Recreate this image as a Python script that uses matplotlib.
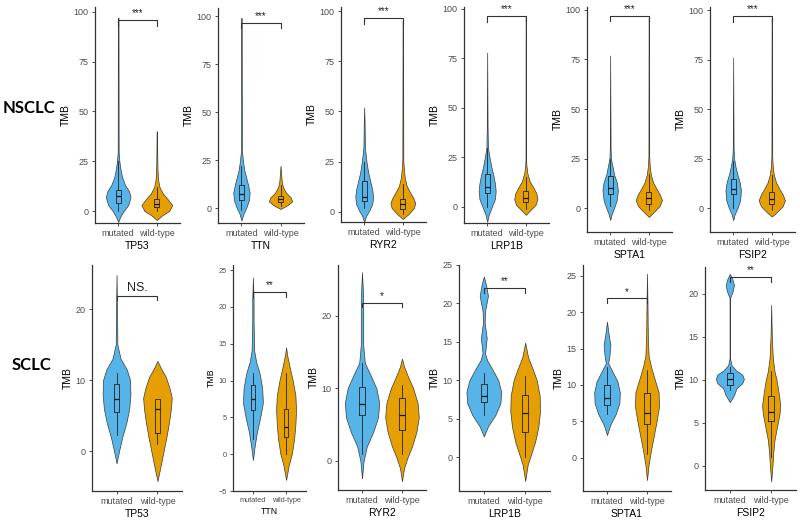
import numpy as np
import matplotlib
matplotlib.use("Agg")
import matplotlib.pyplot as plt

plt.rcParams['font.family'] = ['Liberation Sans', 'DejaVu Sans']

genes = ["TP53", "TTN", "RYR2", "LRP1B", "SPTA1", "FSIP2"]
groups = ["mutated", "wild-type"]
colors = ["#56B4E9", "#E69F00"]

# violin outlines: TMB level -> half width (category units)
nsclc_mut_y = [
    [-5.5, -3, 0, 3, 7, 10, 13, 17, 21, 25, 30, 97],
    [-6.5, -3, 0, 4, 8, 12, 16, 20, 25, 30, 99],
    [-5, -2, 1, 4, 7.5, 11, 15, 20, 25, 32, 45, 52],
    [-7.5, -4, 0, 4, 8, 12, 16, 20, 25, 30, 40, 78],
    [-6, -3, 0, 4, 9, 13, 17, 21, 25, 30, 77],
    [-6, -3, 0, 4, 9, 13, 17, 21, 25, 30, 76],
]
nsclc_mut_w = [
    [0, 0.05, 0.14, 0.26, 0.32, 0.28, 0.18, 0.10, 0.06, 0.03, 0.012, 0.008],
    [0, 0.05, 0.12, 0.19, 0.21, 0.17, 0.12, 0.07, 0.035, 0.012, 0.006],
    [0, 0.05, 0.14, 0.21, 0.23, 0.21, 0.16, 0.10, 0.06, 0.02, 0.01, 0],
    [0, 0.04, 0.12, 0.20, 0.22, 0.20, 0.16, 0.11, 0.06, 0.02, 0.01, 0],
    [0, 0.04, 0.10, 0.17, 0.20, 0.17, 0.10, 0.06, 0.02, 0.01, 0],
    [0, 0.04, 0.11, 0.18, 0.20, 0.17, 0.11, 0.06, 0.025, 0.01, 0],
]
nsclc_wt_y = [
    [-4.5, -2, 0, 3, 6, 9, 12, 16, 22, 30, 40],
    [-0.5, 1.5, 3.5, 5.5, 8, 11, 14, 18, 22],
    [-3.5, -1, 2, 4.5, 7, 10, 13, 17, 22, 26, 95],
    [-4, -1.5, 1, 4, 7, 10, 13, 17, 21, 24, 96],
    [-4.5, -2, 1, 4, 7, 10, 13, 17, 21, 26, 96],
    [-4.2, -2, 1, 4, 7, 10, 13, 17, 21, 26, 96],
]
nsclc_wt_w = [
    [0, 0.15, 0.32, 0.40, 0.28, 0.15, 0.07, 0.03, 0.015, 0.01, 0.005],
    [0, 0.18, 0.30, 0.26, 0.14, 0.06, 0.03, 0.015, 0],
    [0, 0.15, 0.29, 0.32, 0.27, 0.18, 0.10, 0.05, 0.025, 0.012, 0.006],
    [0, 0.12, 0.25, 0.30, 0.27, 0.19, 0.10, 0.04, 0.015, 0.008, 0.005],
    [0, 0.13, 0.28, 0.34, 0.28, 0.19, 0.11, 0.05, 0.025, 0.01, 0.005],
    [0, 0.13, 0.28, 0.34, 0.28, 0.19, 0.11, 0.05, 0.025, 0.01, 0.005],
]
# box stats: low whisker, q1, median, q3, high whisker
nsclc_mut_box = [(0, 4, 7.3, 10.5, 25), (-1, 4, 7.5, 12, 22), (2, 5.5, 7.5, 15.4, 25),
                 (0, 7, 10, 16.5, 30), (1, 7, 10, 16, 25), (0, 7, 9.5, 15, 24)]
nsclc_wt_box = [(0, 1.8, 3.5, 6, 12), (1, 3, 4.8, 6.5, 12), (-1, 1.3, 3.8, 6.3, 14),
                (-1, 2.5, 4.5, 8, 15), (-1, 2, 5, 8, 17), (-1, 2, 4.8, 8, 17)]
nsclc_sig = ["***", "***", "***", "***", "***", "***"]
nsclc_bar = [95.8, 96.5, 96.3, 96.3, 97, 97]
nsclc_ylim = [(-6, 102.4), (-7.8, 104.2), (-5, 102), (-8.1, 101), (-12.1, 101.5), (-12, 101.6)]
nsclc_ticks = [[0, 25, 50, 75, 100]] * 6

sclc_mut_y = [
    [-1.7, 0, 2, 4, 6, 8, 10, 11.5, 13, 15, 20, 24.8],
    [-0.8, 1, 3, 5, 7, 9, 11, 12.5, 14, 18, 21, 24],
    [-2.4, 0, 2, 4, 6, 8, 10, 12, 13.5, 16, 20, 22.5, 26],
    [2.7, 4, 5.5, 7, 8.5, 10, 11.5, 12.6, 13.5, 15.5, 17.5, 19, 21, 22.5, 23.5],
    [3.1, 4.5, 6, 7.5, 9, 10.5, 12, 13, 14, 15.5, 17, 18.7],
    [7.4, 8.2, 9, 9.6, 10.1, 10.6, 11.1, 11.7, 12.5, 19.5, 20.3, 21, 21.7, 22.3],
]
sclc_mut_w = [
    [0, 0.06, 0.14, 0.24, 0.31, 0.34, 0.33, 0.25, 0.10, 0.02, 0.012, 0],
    [0, 0.05, 0.12, 0.22, 0.30, 0.28, 0.20, 0.10, 0.04, 0.02, 0.02, 0],
    [0, 0.04, 0.12, 0.28, 0.40, 0.43, 0.36, 0.20, 0.07, 0.03, 0.03, 0.03, 0],
    [0, 0.10, 0.28, 0.40, 0.42, 0.35, 0.20, 0.08, 0.03, 0.07, 0.02, 0.03, 0.10, 0.05, 0],
    [0, 0.08, 0.22, 0.31, 0.32, 0.26, 0.12, 0.03, 0.06, 0.085, 0.04, 0],
    [0, 0.10, 0.16, 0.30, 0.34, 0.30, 0.15, 0.04, 0.006, 0.006, 0.07, 0.10, 0.06, 0],
]
sclc_wt_y = [
    [-4.2, -2, 0, 2, 4, 6, 7.5, 9, 10.5, 11.5, 12.7],
    [-3.5, -1.5, 0, 2, 4, 6, 8, 10, 12, 13.5, 14.5],
    [-2.8, -1, 0.5, 2, 4, 6, 8, 10, 11.5, 13, 14.1],
    [-3.1, -1, 0.5, 2, 4, 6, 8, 10, 11.5, 13, 14.9],
    [-3.1, -1, 1, 3, 5, 7, 9, 11, 12.5, 14, 17, 21, 25.3],
    [-1.8, 0, 1.5, 3, 4.5, 6, 7, 8.5, 10, 11, 12.5, 15, 18.7],
]
sclc_wt_w = [
    [0, 0.08, 0.15, 0.22, 0.28, 0.33, 0.35, 0.29, 0.20, 0.10, 0],
    [0, 0.08, 0.17, 0.24, 0.28, 0.30, 0.28, 0.20, 0.10, 0.03, 0],
    [0, 0.05, 0.14, 0.25, 0.36, 0.42, 0.39, 0.28, 0.16, 0.05, 0],
    [0, 0.06, 0.15, 0.24, 0.32, 0.36, 0.35, 0.28, 0.18, 0.07, 0],
    [0, 0.04, 0.10, 0.17, 0.24, 0.30, 0.29, 0.18, 0.10, 0.04, 0.02, 0.012, 0],
    [0, 0.03, 0.05, 0.08, 0.14, 0.20, 0.22, 0.18, 0.13, 0.08, 0.04, 0.015, 0],
]
sclc_mut_box = [(2.3, 5.5, 7.4, 9.5, 11), (2, 6, 7.5, 9.4, 11), (1, 6.3, 7.8, 10.2, 13.5),
                (5.5, 7.2, 8, 9.5, 11), (6, 7.2, 8.2, 10, 12.5), (8.8, 9.4, 10.1, 10.8, 11.5)]
sclc_wt_box = [(1, 2.6, 6.0, 7.4, 7.4), (0, 2.3, 3.7, 6.1, 11), (1, 4.3, 6.3, 8.7, 10.5),
               (0, 3.3, 5.7, 8.1, 10.5), (0.5, 4.6, 6.2, 8.9, 12), (1, 5.2, 6.3, 8.1, 11)]
sclc_sig = ["NS.", "**", "*", "**", "*", "**"]
sclc_bar = [21.9, 22, 21.8, 22, 21.9, 21.9]
sclc_ylim = [(-5.6, 26.2), (-5, 25.7), (-4, 27), (-4.4, 25), (-4.6, 26.5), (-2.8, 23.1)]
sclc_ticks = [[0, 10, 20], [-5, 0, 5, 10, 15, 20, 25], [0, 10, 20],
              [0, 5, 10, 15, 20, 25], [0, 5, 10, 15, 20, 25], [0, 5, 10, 15, 20]]

# panel frames in pixels: left, right, top, bottom
nsclc_frames = [(95, 180, 7, 223), (218, 304, 8, 223), (341, 426, 7, 222),
                (464, 549, 7, 223), (587, 672, 7, 232), (710, 795, 7, 232)]
sclc_frames = [(92, 182, 265, 491), (233, 306, 265, 491), (338, 426, 265, 490),
               (459, 550, 265, 491), (583, 671, 265, 491), (705, 796, 267, 490)]
# tick label sizes (the SCLC TTN panel was pasted in smaller)
nsclc_fs = [6.5] * 6
sclc_fs = [6.5, 5.3, 6.5, 6.5, 6.5, 6.5]

W, H = 800, 521
fig = plt.figure(figsize=(8, 5.21), dpi=100)
grey = "#4D4D4D"


def draw_panel(frame, gene, ys, ws, boxes, sig, bar, ylim, ticks, tip, fsz):
    l, r, t, b = frame
    ax = fig.add_axes([l / W, 1 - b / H, (r - l) / W, (b - t) / H])
    for i in range(2):
        pos = i + 1
        y = np.array(ys[i])
        w = np.array(ws[i])
        ax.fill_betweenx(y, pos - w, pos + w, facecolor=colors[i],
                         edgecolor="#3a3a3a", linewidth=0.5, zorder=2)
        lo, q1, med, q3, hi = boxes[i]
        stats = dict(whislo=lo, q1=q1, med=med, q3=q3, whishi=hi)
        ax.bxp([stats], positions=[pos], widths=0.13, showfliers=False,
               showcaps=False, manage_ticks=False,
               boxprops=dict(color="#222222", lw=0.6),
               whiskerprops=dict(color="#222222", lw=0.6),
               medianprops=dict(color="#111111", lw=0.9), zorder=3)
    ax.plot([1, 1, 2, 2], [bar - tip, bar, bar, bar - tip], color="#333333",
            lw=0.8, zorder=4)
    fs = 9 if sig == "NS." else 7
    ax.text(1.5, bar + tip * 0.4, sig, ha="center", va="bottom",
            fontsize=fs, color="#222222")
    ax.set_xlim(0.4, 2.6)
    ax.set_ylim(*ylim)
    ax.set_xticks([1, 2])
    ax.set_xticklabels(groups)
    ax.set_yticks(ticks)
    ax.set_xlabel(gene, fontsize=fsz + 1, labelpad=2)
    ax.set_ylabel("TMB", fontsize=fsz + 1, labelpad=2)
    ax.tick_params(labelsize=fsz, labelcolor=grey, length=2.5, width=0.6,
                   color="#333333", pad=2)
    for s in ["top", "right"]:
        ax.spines[s].set_visible(False)
    for s in ["left", "bottom"]:
        ax.spines[s].set_linewidth(0.9)
        ax.spines[s].set_color("#333333")
    return ax


for k, gene in enumerate(genes):
    draw_panel(nsclc_frames[k], gene, [nsclc_mut_y[k], nsclc_wt_y[k]],
               [nsclc_mut_w[k], nsclc_wt_w[k]], [nsclc_mut_box[k], nsclc_wt_box[k]],
               nsclc_sig[k], nsclc_bar[k], nsclc_ylim[k], nsclc_ticks[k], 2.8,
               nsclc_fs[k])
    draw_panel(sclc_frames[k], gene, [sclc_mut_y[k], sclc_wt_y[k]],
               [sclc_mut_w[k], sclc_wt_w[k]], [sclc_mut_box[k], sclc_wt_box[k]],
               sclc_sig[k], sclc_bar[k], sclc_ylim[k], sclc_ticks[k], 0.6,
               sclc_fs[k])

fig.text(3 / W, 1 - 108 / H, "NSCLC", ha="left", va="center",
         fontsize=12, fontweight="bold", family="Lato")
fig.text(12 / W, 1 - 365 / H, "SCLC", ha="left", va="center",
         fontsize=12, fontweight="bold", family="Lato")

fig.savefig("out.png", dpi=100)
